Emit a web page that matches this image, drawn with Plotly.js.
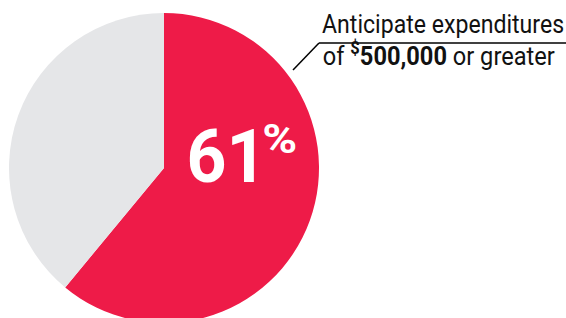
<!DOCTYPE html>
<html><head><meta charset="utf-8">
<script src="https://cdn.plot.ly/plotly-3.0.1.min.js"></script>
<style>html,body{margin:0;padding:0;overflow:hidden;background:#fff;width:566px;height:318px}</style>
</head><body><div id="chart"></div>
<script>
const labels = ["$500,000 or greater", "Less than $500,000"];
const values = [61, 39];
const colors = ["#EE1B48", "#E5E6E8"];
const bigLabel = "61";
const W = 566, H = 330;
const px = x => x / W, py = y => (H - y) / H;
const FONT = 'Roboto, "DejaVu Sans Condensed", sans-serif';

// [annotation, target text length in px or null]
const ann = [
  [{x: px(226), y: py(156), text: '<b>' + bigLabel + '</b>', font: {family: FONT, size: 74, color: '#fff'}}, 80],
  [{x: px(280), y: py(140), text: '<b>%</b>', font: {family: FONT, size: 40, color: '#fff'}}, 35],
  [{x: px(443), y: py(24), text: 'Anticipate expenditures', font: {family: FONT, size: 25, color: '#111'}}, 242],
  [{x: px(439), y: py(54), text: 'of <sup><b>$</b></sup><b>500,000</b> or greater', font: {family: FONT, size: 25, color: '#111'}}, 232]
];

Plotly.newPlot('chart', [{
  type: 'pie', labels: labels, values: values, sort: false,
  direction: 'clockwise', rotation: 0,
  marker: {colors: colors, line: {width: 0}},
  textinfo: 'none', hoverinfo: 'label+percent',
  domain: {x: [px(9), px(319)], y: [py(323), py(13)]}
}], {
  width: W, height: H, margin: {l: 0, r: 0, t: 0, b: 0},
  showlegend: false, paper_bgcolor: '#fff',
  shapes: [
    {type: 'line', xref: 'paper', yref: 'paper', x0: px(319), y0: py(43), x1: px(566), y1: py(43), line: {color: '#000', width: 1.5}},
    {type: 'line', xref: 'paper', yref: 'paper', x0: px(319), y0: py(43), x1: px(293), y1: py(70), line: {color: '#000', width: 1.5}}
  ],
  annotations: ann.map(a => Object.assign({xref: 'paper', yref: 'paper', xanchor: 'center', yanchor: 'middle', showarrow: false}, a[0]))
}, {displayModeBar: false, staticPlot: true}).then(() => {
  const texts = document.querySelectorAll('.annotation-text');
  texts.forEach((t, i) => {
    if (ann[i] && ann[i][1]) {
      t.setAttribute('textLength', ann[i][1]);
      t.setAttribute('lengthAdjust', 'spacingAndGlyphs');
    }
  });
});
</script></body></html>
